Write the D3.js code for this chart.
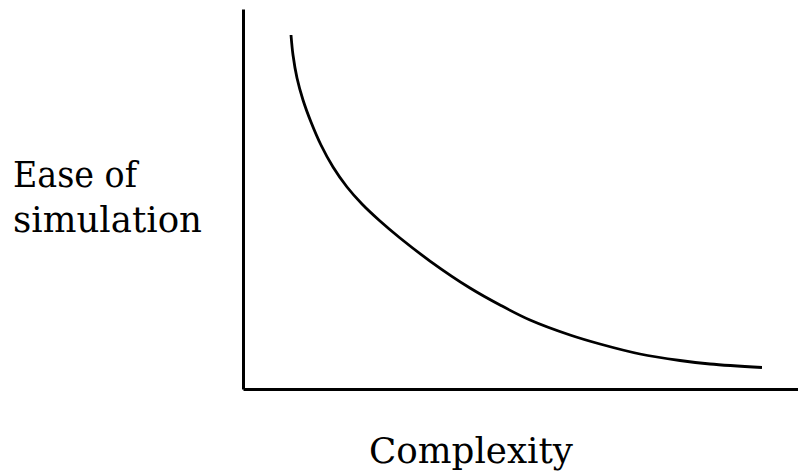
<!DOCTYPE html>
<html>
<head>
<meta charset="utf-8">
<script src="https://cdn.jsdelivr.net/npm/d3@7"></script>
<style>
    html, body { margin: 0; padding: 0; background: #fff; }
    svg { display: block; }
    .label { font-family: "DejaVu Serif", serif; fill: #000; }
</style>
</head>
<body>
<svg id="chart" width="798" height="474"></svg>
<script>
// Complexity (0-100) vs ease of simulation (0-100)
const complexity = [8.65, 9.01, 9.73, 10.81, 12.25, 14.05, 16.22, 18.74, 21.44, 24.68, 28.29,
    33.69, 40.90, 46.31, 51.71, 58.92, 64.32, 71.53, 78.74, 84.14, 93.51];
const easeOfSimulation = [93.16, 87.89, 81.84, 76.05, 70.26, 64.21, 58.42, 53.16, 48.68, 44.21, 39.74,
    33.68, 26.58, 22.11, 18.16, 14.21, 11.84, 9.21, 7.50, 6.58, 5.66];
const yLabelLines = ['Ease of', 'simulation'];
const yLabelWidths = [124, 189];
const xLabel = 'Complexity';

const svg = d3.select('#chart');

// Plot area
const x = d3.scaleLinear().domain([0, 100]).range([243, 798]);
const y = d3.scaleLinear().domain([0, 100]).range([389, 9]);

// Axes without ticks, only the domain lines
svg.append('g')
    .attr('transform', `translate(${x(0)},0)`)
    .call(d3.axisLeft(y).tickValues([]).tickSizeOuter(0))
    .call(g => g.select('.domain').attr('stroke', '#000').attr('stroke-width', 3));

svg.append('g')
    .attr('transform', `translate(0,${y(0)})`)
    .call(d3.axisBottom(x).tickValues([]).tickSizeOuter(0))
    .call(g => g.select('.domain').attr('stroke', '#000').attr('stroke-width', 3));

// Curve
const points = complexity.map((c, i) => ({ c, e: easeOfSimulation[i] }));
const line = d3.line()
    .x(d => x(d.c))
    .y(d => y(d.e))
    .curve(d3.curveCatmullRom.alpha(0.5));

svg.append('path')
    .datum(points)
    .attr('fill', 'none')
    .attr('stroke', '#000')
    .attr('stroke-width', 2.8)
    .attr('d', line);

// Y label (two lines)
svg.selectAll('.y-label')
    .data(yLabelLines)
    .enter()
    .append('text')
    .attr('class', 'label y-label')
    .attr('font-size', 35)
    .attr('x', 13)
    .attr('y', (d, i) => 187 + i * 45)
    .attr('textLength', (d, i) => yLabelWidths[i])
    .attr('lengthAdjust', 'spacingAndGlyphs')
    .text(d => d);

// X label
svg.append('text')
    .attr('class', 'label')
    .attr('font-size', 35)
    .attr('x', 369)
    .attr('y', 463)
    .attr('textLength', 204)
    .attr('lengthAdjust', 'spacingAndGlyphs')
    .text(xLabel);
</script>
</body>
</html>
